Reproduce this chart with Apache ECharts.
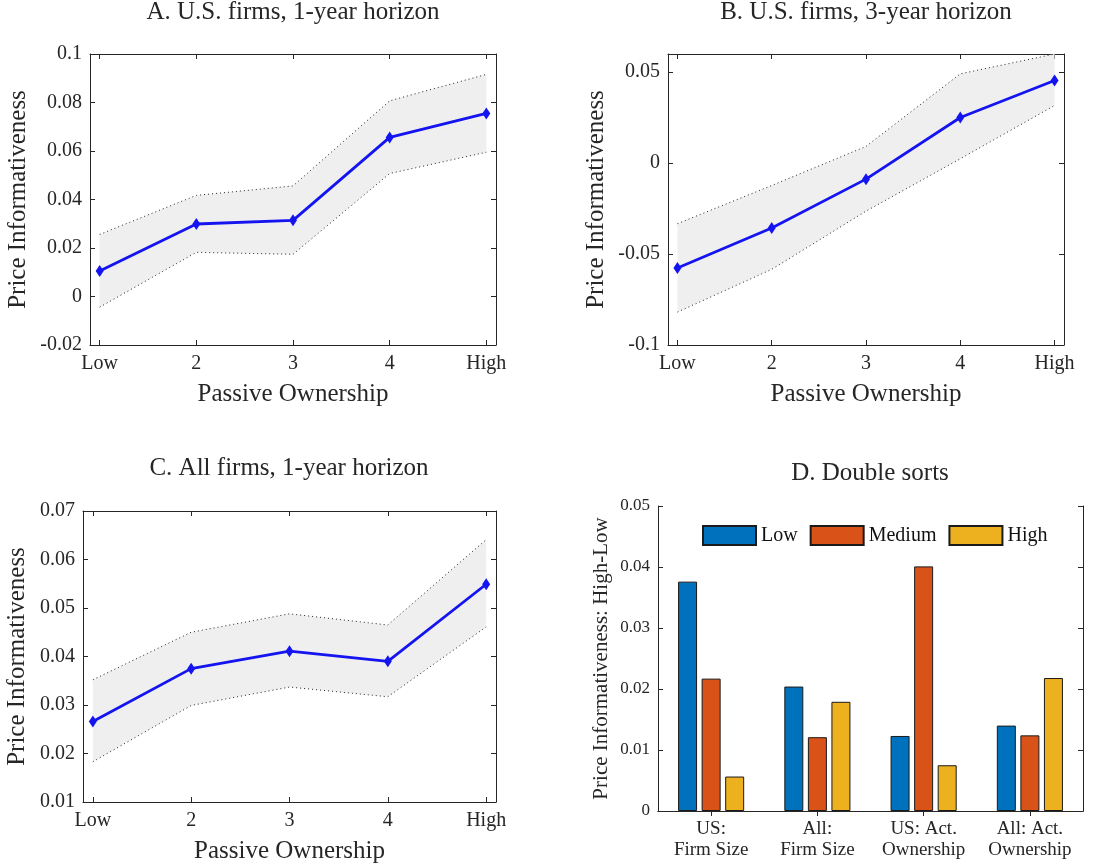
<!DOCTYPE html>
<html>
<head>
<meta charset="utf-8">
<script src="https://cdn.jsdelivr.net/npm/echarts@6/dist/echarts.min.js"></script>
<style>
  html, body { margin: 0; padding: 0; background: #fff; }
  #main { width: 1113px; height: 867px; }
</style>
</head>
<body>
<div id="main"></div>
<script>
// panel A-C: passive ownership quintiles
const categories = ['Low', '2', '3', '4', 'High'];

const aMid   = [0.0105, 0.0299, 0.0314, 0.0656, 0.0755];
const aUpper = [0.0256, 0.0417, 0.0456, 0.0807, 0.0916];
const aLower = [-0.0044, 0.0182, 0.0174, 0.0507, 0.0595];

const bMid   = [-0.0577, -0.0357, -0.0088, 0.0251, 0.0454];
const bUpper = [-0.0333, -0.0123, 0.0092, 0.0491, 0.0600];
const bLower = [-0.0819, -0.0584, -0.0264, 0.0024, 0.0317];

const cMid   = [0.0266, 0.0375, 0.0411, 0.0390, 0.0549];
const cUpper = [0.0352, 0.0450, 0.0488, 0.0465, 0.0641];
const cLower = [0.0183, 0.0299, 0.0337, 0.0317, 0.0461];

const aTicks = [-0.02, 0, 0.02, 0.04, 0.06, 0.08, 0.1];
const bTicks = [-0.1, -0.05, 0, 0.05];
const cTicks = [0.01, 0.02, 0.03, 0.04, 0.05, 0.06, 0.07];

// panel D: double sorts
const sortGroups = ['US:\nFirm Size', 'All:\nFirm Size', 'US: Act.\nOwnership', 'All: Act.\nOwnership'];
const sortLow    = [0.0376, 0.0204, 0.0123, 0.0140];
const sortMedium = [0.0217, 0.0121, 0.0401, 0.0124];
const sortHigh   = [0.00565, 0.0179, 0.0075, 0.0218];
const dTicks = [0, 0.01, 0.02, 0.03, 0.04, 0.05];

const FONT = 'Liberation Serif';
const INK = '#262626';
const xPos = categories.map((c, i) => i + 1);

const chart = echarts.init(document.getElementById('main'));

const grid = [], xAxis = [], yAxis = [], series = [];

function fmt(v) {
    return String(+v.toFixed(3));
}

function boxAxis(base, pos) {
    // MATLAB "box on": mirrored axis with inner ticks only
    return Object.assign({}, base, {
        position: pos,
        name: '',
        axisLabel: { show: false },
    });
}

function linePanel(k, box, yMin, yMax, yTicks, mid, upper, lower, yGap) {
    grid.push(Object.assign({ containLabel: false }, box));
    const xBase = {
        gridIndex: k, type: 'value', min: 0.9, max: 5.1,
        axisLine: { show: true, onZero: false, lineStyle: { color: INK, width: 1 } },
        axisTick: { show: true, inside: true, length: 5, customValues: xPos, lineStyle: { color: INK } },
        axisLabel: {
            customValues: xPos, formatter: v => categories[Math.round(v) - 1],
            fontFamily: FONT, fontSize: 20, color: INK, margin: 9
        },
        splitLine: { show: false },
        name: 'Passive Ownership', nameLocation: 'middle', nameGap: 37,
        nameTextStyle: { fontFamily: FONT, fontSize: 25, color: INK }
    };
    const yBase = {
        gridIndex: k, type: 'value', min: yMin, max: yMax,
        axisLine: { show: true, onZero: false, lineStyle: { color: INK, width: 1 } },
        axisTick: { show: true, inside: true, length: 5, customValues: yTicks, lineStyle: { color: INK } },
        axisLabel: {
            customValues: yTicks, formatter: fmt,
            fontFamily: FONT, fontSize: 20, color: INK, margin: 8
        },
        splitLine: { show: false },
        name: 'Price Informativeness', nameLocation: 'middle', nameGap: yGap,
        nameTextStyle: { fontFamily: FONT, fontSize: 25, color: INK }
    };
    const xi = xAxis.length, yi = yAxis.length;
    xAxis.push(Object.assign({ position: 'bottom' }, xBase), boxAxis(xBase, 'top'));
    yAxis.push(Object.assign({ position: 'left' }, yBase), boxAxis(yBase, 'right'));

    // shaded confidence band
    series.push({
        type: 'custom', xAxisIndex: xi, yAxisIndex: yi, silent: true, z: 1,
        data: [0],
        renderItem: (params, api) => {
            const top = upper.map((v, i) => api.coord([xPos[i], v]));
            const bot = lower.map((v, i) => api.coord([xPos[i], v])).reverse();
            return { type: 'polygon', shape: { points: top.concat(bot) }, style: { fill: '#efefef' } };
        }
    });
    [upper, lower].forEach(arr => {
        series.push({
            type: 'line', xAxisIndex: xi, yAxisIndex: yi, z: 2, silent: true,
            data: arr.map((v, i) => [xPos[i], v]), symbol: 'none',
            lineStyle: { color: '#222', width: 1, type: [1, 3] }
        });
    });
    series.push({
        type: 'line', xAxisIndex: xi, yAxisIndex: yi, z: 3,
        data: mid.map((v, i) => [xPos[i], v]),
        symbol: 'diamond', symbolSize: [8, 12],
        itemStyle: { color: '#1414f0' },
        lineStyle: { color: '#1414f0', width: 2.8 }
    });
}

linePanel(0, { left: 90, top: 54, width: 406, height: 291 }, -0.02, 0.1, aTicks, aMid, aUpper, aLower, 59);
linePanel(1, { left: 668, top: 54, width: 396, height: 291 }, -0.1, 0.06, bTicks, bMid, bUpper, bLower, 59);
linePanel(2, { left: 83, top: 511, width: 413, height: 291 }, 0.01, 0.07, cTicks, cMid, cUpper, cLower, 53);

// panel D
grid.push({ left: 658, top: 506, width: 425, height: 305 });
const dx = {
    gridIndex: 3, type: 'category', data: sortGroups,
    axisLine: { show: true, lineStyle: { color: INK, width: 1 } },
    axisTick: { show: true, inside: true, length: 5, alignWithLabel: true, lineStyle: { color: INK } },
    axisLabel: { interval: 0, hideOverlap: false, fontFamily: FONT, fontSize: 19, color: INK, margin: 8, lineHeight: 21 },
    splitLine: { show: false }
};
const dy = {
    gridIndex: 3, type: 'value', min: 0, max: 0.05,
    axisLine: { show: true, onZero: false, lineStyle: { color: INK, width: 1 } },
    axisTick: { show: true, inside: true, length: 5, customValues: dTicks, lineStyle: { color: INK } },
    axisLabel: { customValues: dTicks, formatter: fmt, fontFamily: FONT, fontSize: 17, color: INK, margin: 8 },
    splitLine: { show: false },
    name: 'Price Informativeness: High-Low', nameLocation: 'middle', nameGap: 46,
    nameTextStyle: { fontFamily: FONT, fontSize: 21, color: INK }
};
const dxi = xAxis.length, dyi = yAxis.length;
xAxis.push(Object.assign({ position: 'bottom' }, dx), boxAxis(dx, 'top'));
yAxis.push(Object.assign({ position: 'left' }, dy), boxAxis(dy, 'right'));

[['Low', sortLow, '#0072BD'], ['Medium', sortMedium, '#D95319'], ['High', sortHigh, '#EDB120']].forEach(([name, vals, col]) => {
    series.push({
        name, type: 'bar', xAxisIndex: dxi, yAxisIndex: dyi,
        data: vals, barWidth: 19, barGap: '24%',
        itemStyle: { color: col, borderColor: '#1a1a1a', borderWidth: 1 }
    });
});

const titleStyle = { fontFamily: FONT, fontSize: 25, fontWeight: 'normal', color: INK };
chart.setOption({
    backgroundColor: '#fff',
    animation: false,
    title: [
        { text: 'A. U.S. firms, 1-year horizon', left: 293, top: 0, textAlign: 'center', padding: 0, textStyle: titleStyle },
        { text: 'B. U.S. firms, 3-year horizon', left: 866, top: 0, textAlign: 'center', padding: 0, textStyle: titleStyle },
        { text: 'C. All firms, 1-year horizon', left: 289, top: 456, textAlign: 'center', padding: 0, textStyle: titleStyle },
        { text: 'D. Double sorts', left: 870, top: 461, textAlign: 'center', padding: 0, textStyle: titleStyle }
    ],
    legend: {
        data: ['Low', 'Medium', 'High'],
        left: 702, top: 525, padding: 0,
        itemWidth: 53, itemHeight: 19, itemGap: 12,
        icon: 'rect',
        textStyle: { fontFamily: FONT, fontSize: 20, color: '#111' }
    },
    grid, xAxis, yAxis, series
});
</script>
</body>
</html>
